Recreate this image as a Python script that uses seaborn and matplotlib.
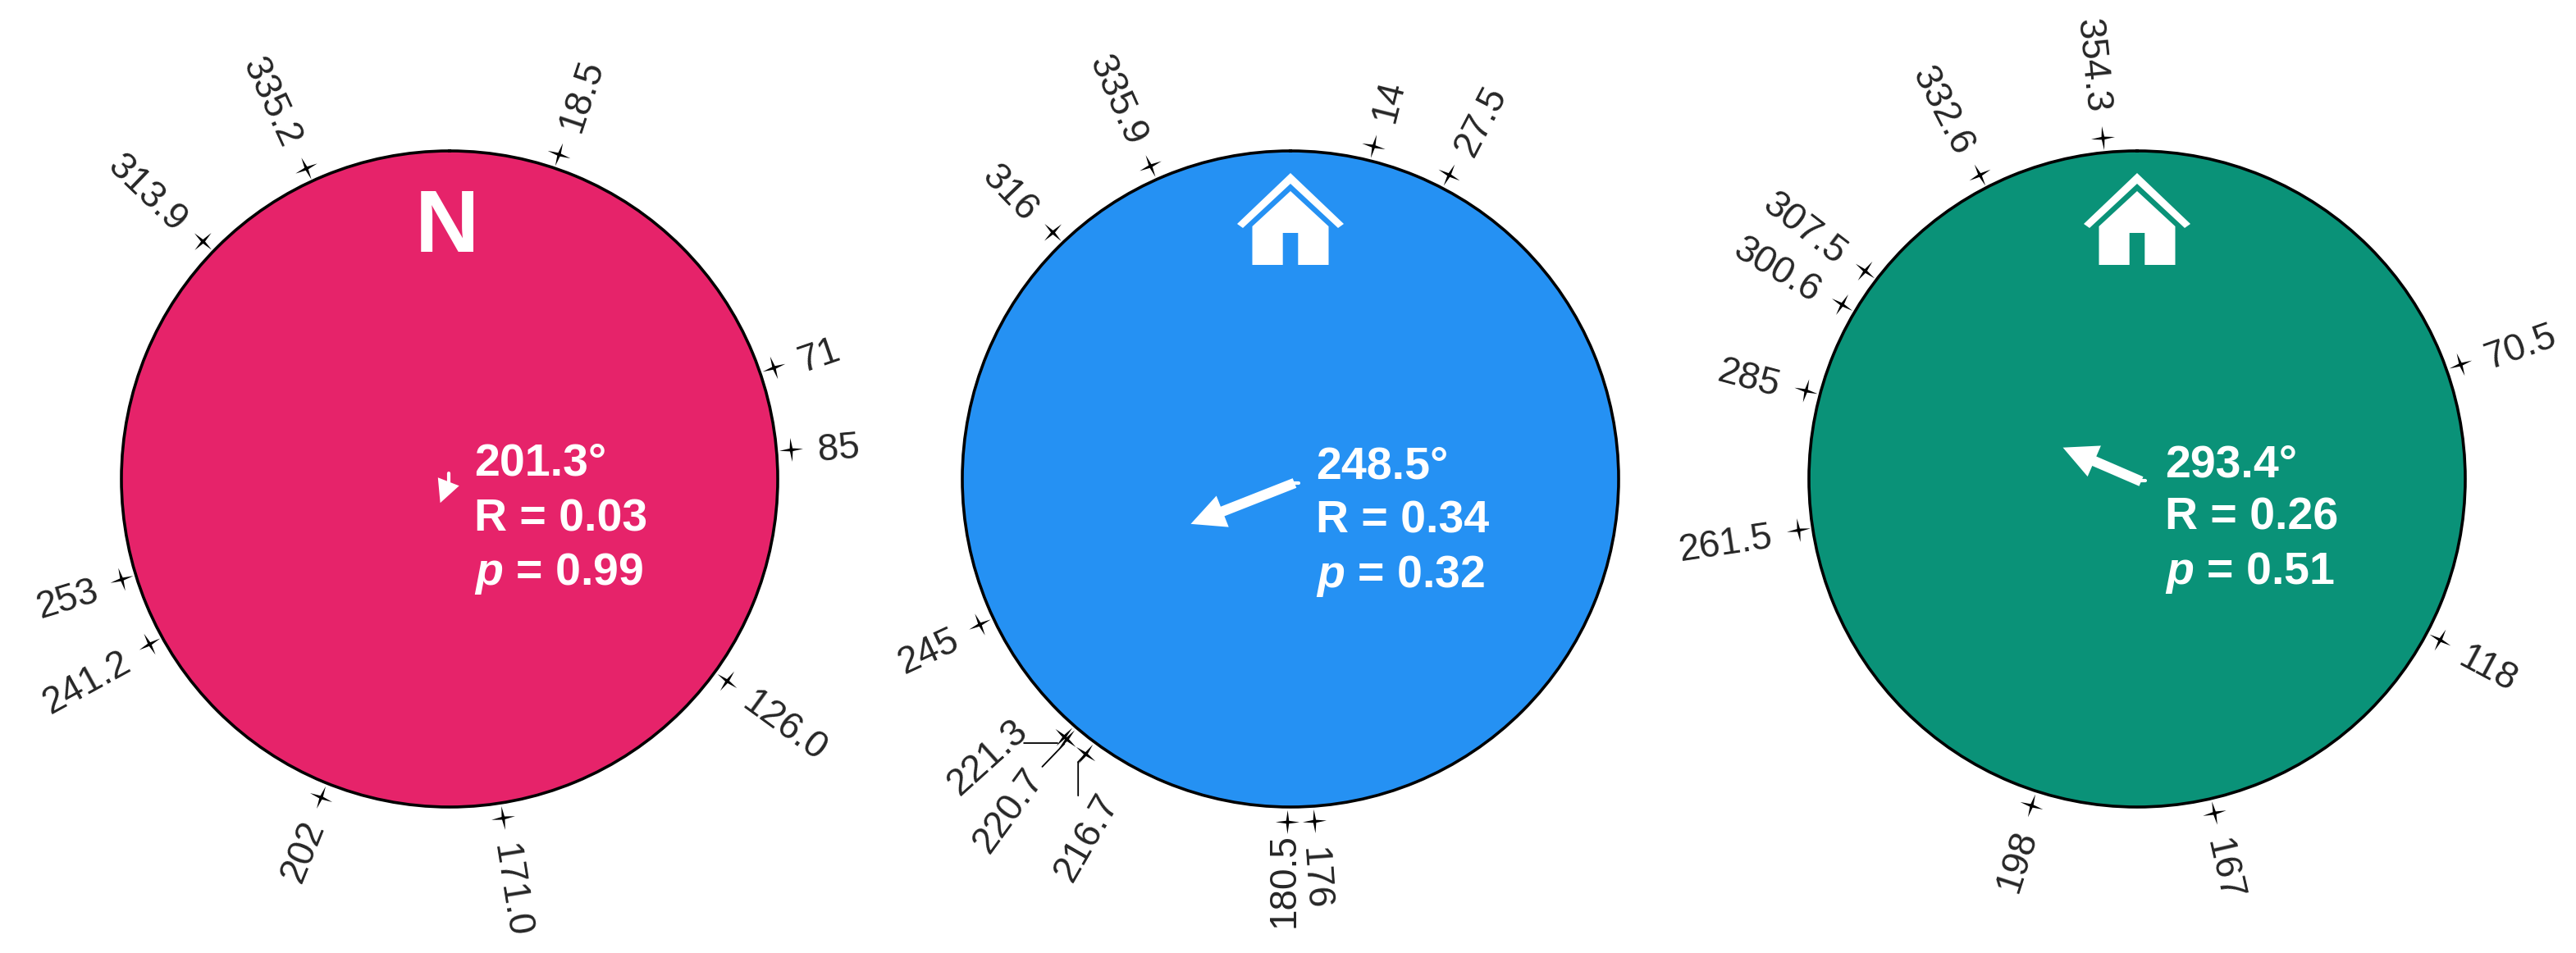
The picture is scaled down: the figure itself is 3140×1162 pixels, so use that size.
import numpy as np
import matplotlib
matplotlib.use("Agg")
import matplotlib.pyplot as plt
from matplotlib.markers import MarkerStyle
from matplotlib.patches import PathPatch
from matplotlib.path import Path
from matplotlib.transforms import Affine2D
import seaborn as sns

# bearings
PINK_BEARINGS = [18.5, 71, 85, 126.0, 171.0, 202, 241.2, 253, 313.9, 335.2]
PINK_LABELS = ["18.5", "71", "85", "126.0", "171.0", "202", "241.2", "253", "313.9", "335.2"]
BLUE_BEARINGS = [14, 27.5, 176, 180.5, 216.7, 220.7, 221.3, 245, 316, 335.9]
BLUE_LABELS = ["14", "27.5", "176", "180.5", "216.7", "220.7", "221.3", "245", "316", "335.9"]
GREEN_BEARINGS = [70.5, 118, 167, 198, 261.5, 285, 300.6, 307.5, 332.6, 354.3]
GREEN_LABELS = ["70.5", "118", "167", "198", "261.5", "285", "300.6", "307.5", "332.6", "354.3"]

MEAN_ANGLES = [201.3, 248.5, 293.4]
MEAN_R = [0.03, 0.34, 0.26]
P_VALUES = [0.99, 0.32, 0.51]

# layout, in pixels of the 3140x1162 picture
CENTERS_X = [548, 1573, 2605]
CENTER_Y = 584
RADIUS = 400
COLORS = ["#E6236A", "#2591F3", "#0A9278"]
ARROW_SHIFT = [(-7, -18), (5, -5), (5, -3)]
ARROW_HEAD = [(20, 20), (30, 29.5), (30, 29.5)]
ARROW_STUB = [((-1, -4), (-1, 7)), ((4, -5), (10, -5)), ((4, -2), (10, -2))]
TEXT_X = [30, 31, 34]
TEXT_Y = [[4, -63, -129], [1, -66, -132], [2, -62, -128]]

# labels moved off the ring because they would collide: dx, dy, rotation
MOVED = {
    "180.5": (-9, -14, 90),
    "221.3": (-54, 16, 42),
    "220.7": (-41, -38, 54),
    "216.7": (26, -50, 60),
}
LEADERS = {
    "221.3": [(-49, -8), (-8, -8)],
    "220.7": [(-30, -34), (-3, -6)],
    "216.7": [(-9, -51), (-9, -10), (0, 0)],
}

STAR_R = 1.045
LABEL_R = 1.125

sns.set_style("white")
plt.rcParams["font.family"] = ["Liberation Sans", "DejaVu Sans"]
plt.rcParams["mathtext.fontset"] = "custom"
plt.rcParams["mathtext.bfit"] = "Liberation Sans:italic:bold"


def star_path():
    verts = []
    for k in range(4):
        a = k * np.pi / 2
        verts.append((np.sin(a), np.cos(a)))
        b = a + np.pi / 4
        verts.append((0.17 * np.sin(b), 0.17 * np.cos(b)))
    verts.append(verts[0])
    return Path(verts, closed=True)


def shifted(ax, dx, dy):
    return ax.transData + Affine2D().translate(dx, dy)


def add_house(ax):
    # pixel offsets from the circle centre line, y downwards from the picture top
    roof = [(0, 211), (65, 273), (58, 278), (0, 224), (-58, 278), (-65, 273), (0, 211)]
    body = [(0, 233), (46.5, 276), (46.5, 323), (9.3, 323), (9.3, 284), (-9.3, 284),
            (-9.3, 323), (-46.5, 323), (-46.5, 276), (0, 233)]
    for pts in (roof, body):
        verts = [(0.5 + x / (2 * RADIUS), 0.5 + (CENTER_Y - y) / (2 * RADIUS)) for x, y in pts]
        ax.add_patch(PathPatch(Path(verts, closed=True), transform=ax.transAxes,
                               facecolor="white", edgecolor="none", zorder=3))


def draw_panel(i, bearings, labels):
    left = (CENTERS_X[i] - RADIUS) / 3140
    bottom = (1162 - CENTER_Y - RADIUS) / 1162
    ax = fig.add_axes([left, bottom, 2 * RADIUS / 3140, 2 * RADIUS / 1162], projection="polar")
    ax.set_theta_zero_location("N")
    ax.set_theta_direction(-1)
    ax.set_facecolor(COLORS[i])

    for b, label in zip(bearings, labels):
        theta = np.deg2rad(b)
        marker = MarkerStyle(STAR, transform=Affine2D().rotate_deg(-b))
        sns.scatterplot(x=[theta], y=[STAR_R], ax=ax, marker=marker, s=440, color="black",
                        linewidth=0, clip_on=False, legend=False, zorder=4)
        if i == 1 and label in MOVED:
            dx, dy, rot = MOVED[label]
            ax.annotate(label, xy=(theta, STAR_R), xycoords=shifted(ax, dx, dy), rotation=rot,
                        rotation_mode="anchor", ha="right", va="center_baseline", fontsize=33)
            pts = LEADERS.get(label, [])
            for p0, p1 in zip(pts[:-1], pts[1:]):
                ax.annotate("", xy=(theta, STAR_R), xycoords=shifted(ax, *p1),
                            xytext=(theta, STAR_R), textcoords=shifted(ax, *p0),
                            arrowprops=dict(arrowstyle="-", lw=1.3, color="black",
                                            shrinkA=0, shrinkB=0))
        elif b < 180:
            ax.text(theta, LABEL_R, label, rotation=90 - b, rotation_mode="anchor",
                    ha="left", va="center_baseline", fontsize=33)
        else:
            ax.text(theta, LABEL_R, label, rotation=270 - b, rotation_mode="anchor",
                    ha="right", va="center_baseline", fontsize=33)

    ax.set_ylim(0, 1)
    ax.set_thetalim(0, 2 * np.pi)
    ax.set(xlabel="", ylabel="", xticks=[], yticks=[])
    ax.grid(False)
    ax.spines["polar"].set_linewidth(2.6)
    ax.spines["polar"].set_color("black")

    # mean direction arrow, length is R
    theta = np.deg2rad(MEAN_ANGLES[i])
    tail = shifted(ax, *ARROW_SHIFT[i])
    head_len, head_w = ARROW_HEAD[i]
    ax.annotate("", xy=(theta, MEAN_R[i]), xycoords=tail, xytext=(theta, 0), textcoords=tail,
                arrowprops=dict(arrowstyle=f"simple,head_length={head_len},head_width={head_w},tail_width=9",
                                mutation_scale=1, color="white", lw=0, shrinkA=0, shrinkB=0))
    # small stub left at the arrow tail in the original
    s0, s1 = ARROW_STUB[i]
    ax.annotate("", xy=(0, 0), xycoords=shifted(ax, *s1), xytext=(0, 0), textcoords=shifted(ax, *s0),
                arrowprops=dict(arrowstyle="-", lw=3, color="white", shrinkA=0, shrinkB=0))

    lines = [f"{MEAN_ANGLES[i]}°", f"R = {MEAN_R[i]:.2f}", rf"$\mathbfit{{p}}$ = {P_VALUES[i]:.2f}"]
    for line, y in zip(lines, TEXT_Y[i]):
        ax.annotate(line, xy=(0, 0), xycoords=shifted(ax, TEXT_X[i], y), color="white",
                    fontsize=40, fontweight="bold", ha="left", va="baseline")
    return ax


STAR = star_path()
fig = plt.figure(figsize=(31.4, 11.62), dpi=100)

ax1 = draw_panel(0, PINK_BEARINGS, PINK_LABELS)
ax2 = draw_panel(1, BLUE_BEARINGS, BLUE_LABELS)
ax3 = draw_panel(2, GREEN_BEARINGS, GREEN_LABELS)

ax1.text(0.5 - 3 / 800, 0.5 + (584 - 279) / 800, "N", transform=ax1.transAxes, color="white",
         fontsize=78, fontweight="bold", ha="center", va="center")
add_house(ax2)
add_house(ax3)

fig.savefig("out.png", dpi=100)
